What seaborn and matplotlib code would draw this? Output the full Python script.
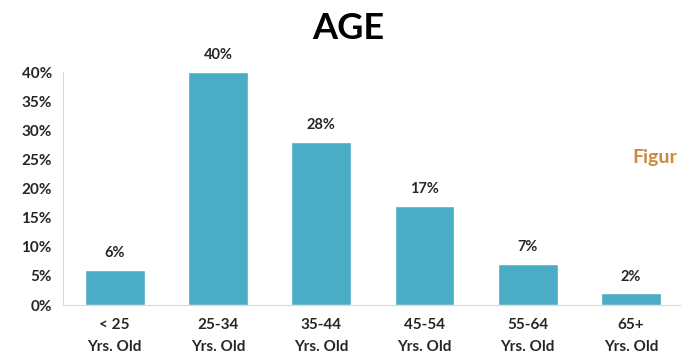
import matplotlib
matplotlib.use("Agg")
import matplotlib.pyplot as plt
import seaborn as sns
import pandas as pd

# Age distribution data
age_groups = ["< 25\nYrs. Old", "25-34\nYrs. Old", "35-44\nYrs. Old",
              "45-54\nYrs. Old", "55-64\nYrs. Old", "65+\nYrs. Old"]
shares = [6, 40, 28, 17, 7, 2]
y_ticks = [0, 5, 10, 15, 20, 25, 30, 35, 40]

df = pd.DataFrame({"age": age_groups, "share": shares})

sns.set_style("white")
plt.rcParams["font.family"] = ["Lato", "DejaVu Sans"]

fig = plt.figure(figsize=(6.81, 3.61), dpi=100)
ax = fig.add_axes([0.0925, 0.155, 0.91, 0.645])

sns.barplot(data=df, x="age", y="share", color="#4bacc6", width=0.58,
            saturation=1, ax=ax)

# Value labels above bars
for i, v in enumerate(shares):
    ax.text(i, v + 1.7, f"{v}%", ha="center", va="bottom",
            fontsize=10.5, fontweight="bold", color="#262626")

ax.set_ylim(0, 40)
ax.set_xlim(-0.5, 5.5)
ax.set_yticks(y_ticks)
ax.set_yticklabels([f"{t}%" for t in y_ticks])
ax.set_xlabel("")
ax.set_ylabel("")
ax.tick_params(axis="both", length=0, labelsize=11, colors="#262626")
ax.tick_params(axis="x", pad=9)
ax.tick_params(axis="y", pad=8)
for lbl in ax.get_xticklabels() + ax.get_yticklabels():
    lbl.set_fontweight("bold")
    lbl.set_linespacing(1.75)

sns.despine(ax=ax, top=True, right=True)
ax.spines["left"].set_color("#d9d9d9")
ax.spines["bottom"].set_color("#d9d9d9")

fig.text(0.511, 0.922, "AGE", ha="center", va="center",
         fontsize=26, fontweight="bold", color="black")

# Caption fragment at the right edge (cropped in the source)
fig.text(0.928, 0.563, "Figur", ha="left", va="center",
         fontsize=14, fontweight="bold", color="#c98a40")

fig.savefig("out.png", dpi=100)
